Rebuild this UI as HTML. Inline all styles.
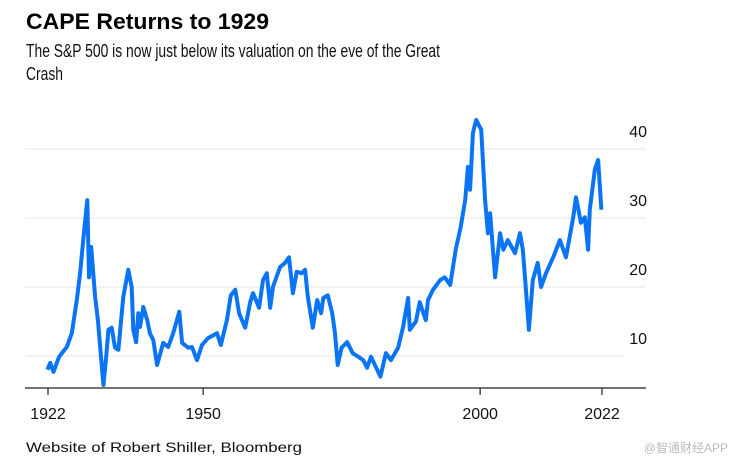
<!DOCTYPE html>
<html><head><meta charset="utf-8"><style>
body{margin:0;background:#fff;}
svg{display:block;font-family:"Liberation Sans",sans-serif;}
</style></head><body>
<svg id="chart" width="736" height="466">
<text x="26" y="29" font-size="22" font-weight="bold" fill="#000" textLength="243" lengthAdjust="spacingAndGlyphs">CAPE Returns to 1929</text>
<text x="26" y="57" font-size="18" fill="#111" textLength="414" lengthAdjust="spacingAndGlyphs">The S&amp;P 500 is now just below its valuation on the eve of the Great</text>
<text x="26" y="80" font-size="18" fill="#111" textLength="37" lengthAdjust="spacingAndGlyphs">Crash</text>
<g id="grid"></g><g id="yl"></g><g id="xl"></g>
<line x1="25" y1="388" x2="646" y2="388" stroke="#222" stroke-width="1.2"/>
<path id="line" fill="none" stroke="#0a74f5" stroke-width="4" stroke-linejoin="round"/>
<text x="26" y="452" font-size="14" fill="#111" textLength="276" lengthAdjust="spacingAndGlyphs">Website of Robert Shiller, Bloomberg</text>
<text x="728" y="452" font-size="12" fill="#bbb" text-anchor="end" font-family="Liberation Sans, Noto Sans CJK SC, sans-serif">@智通财经APP</text>
</svg>
<script>
const years=[1921.9,1922.4,1923,1924,1925.4,1926.3,1927.2,1927.8,1928.4,1929.1,1929.4,1929.8,1930.5,1931,1932,1932.5,1932.9,1933.5,1934.1,1934.7,1935.6,1936.5,1937.1,1937.4,1937.9,1938.3,1938.6,1939.2,1939.9,1940.4,1941,1941.7,1942.8,1943.7,1944.6,1945.7,1946.2,1947.3,1948,1948.9,1949.8,1950.9,1952.5,1953.2,1954.3,1955,1955.8,1956.5,1957.6,1958.5,1959,1960.1,1960.8,1961.5,1962.1,1962.6,1963.9,1964.8,1965.5,1966.2,1966.9,1967.8,1968.4,1968.9,1969.8,1970.6,1971.3,1971.7,1972.5,1973.3,1973.8,1974.3,1975,1976,1977,1978,1978.9,1979.6,1980.3,1982,1983,1983.9,1985.2,1986.1,1987,1987.3,1988.4,1989.1,1990.2,1990.6,1991.5,1992.8,1993.6,1994.6,1995.6,1996.5,1997.3,1997.8,1998.2,1998.7,1999.3,2000.2,2000.9,2001.4,2001.8,2002.7,2003.6,2004.2,2005,2006.3,2007.2,2007.7,2008.1,2008.8,2009.5,2010.4,2011,2011.9,2013.2,2014.4,2015.5,2016.8,2017.3,2018.2,2018.9,2019.5,2019.8,2020.7,2021.3,2021.9];
const cape=[8.0,9.0,7.7,9.9,11.3,13.3,18.1,22,27.2,32.6,21.4,25.8,18.6,15.2,5.8,9.9,13.8,14.1,11.2,10.9,18.6,22.5,20,13.8,12,16.2,14.2,17.1,15.2,13.3,12.3,8.7,11.9,11.3,13.3,16.4,11.9,11.2,11.3,9.4,11.6,12.6,13.3,11.6,15.2,18.8,19.6,16.2,14.1,17.8,19.1,17,21,22,17,20,22.9,23.5,24.3,19.1,22.2,22,22.5,18.6,14.1,18.1,16.2,18.4,18.8,16.2,13.3,8.7,11.2,12,10.4,9.9,9.4,8.3,9.9,7,10.4,9.4,11.2,14.2,18.4,13.8,15,17.8,15.2,18.1,19.6,21,21.4,20.3,25.4,28.7,32.6,37.4,34.1,42.3,44.2,42.8,32.6,27.8,30.7,21.4,27.8,25.4,26.8,24.9,27.8,25.4,21.4,13.8,21,23.5,20,22,24.3,26.8,24.3,30.1,33,29.3,30.1,25.4,31.2,37,38.4,31.2];
const yTicks=[10,20,30,40];
const xTicks=[1922,1950,2000,2022];
const xs=y=>48+(y-1922)*5.54;
const ys=v=>149+(40-v)*6.9;
const NS='http://www.w3.org/2000/svg';
const g=document.getElementById('grid'),yl=document.getElementById('yl'),xl=document.getElementById('xl');
yTicks.forEach(t=>{
 const l=document.createElementNS(NS,'line');
 l.setAttribute('x1',25);l.setAttribute('x2',t===10?624:646);
 l.setAttribute('y1',ys(t));l.setAttribute('y2',ys(t));
 l.setAttribute('stroke','#ebebeb');l.setAttribute('stroke-width','1.2');
 
 
 g.appendChild(l);
 const tx=document.createElementNS(NS,'text');
 tx.setAttribute('x',647);tx.setAttribute('y',ys(t)-12);
 tx.setAttribute('text-anchor','end');tx.setAttribute('font-size','16');tx.setAttribute('fill','#111');
 tx.textContent=t;
 
 
 yl.appendChild(tx);
});
xTicks.forEach(t=>{
 const l=document.createElementNS(NS,'line');
 l.setAttribute('x1',xs(t));l.setAttribute('x2',xs(t));
 l.setAttribute('y1',388);l.setAttribute('y2',395);
 l.setAttribute('stroke','#222');l.setAttribute('stroke-width','1.2');
 
 
 xl.appendChild(l);
 const tx=document.createElementNS(NS,'text');
 tx.setAttribute('x',xs(t));tx.setAttribute('y',419);
 tx.setAttribute('text-anchor','middle');tx.setAttribute('font-size','16');tx.setAttribute('fill','#111');
 tx.textContent=t;
 
 
 xl.appendChild(tx);
});
document.getElementById('line').setAttribute('d',years.map((y,i)=>(i?'L':'M')+xs(y).toFixed(1)+','+ys(cape[i]).toFixed(1)).join(''));
</script>
</body></html>
